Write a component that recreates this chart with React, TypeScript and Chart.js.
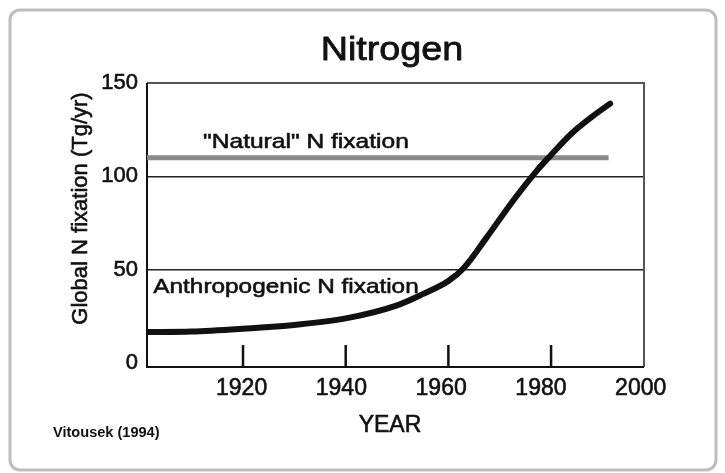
import React, { useEffect, useRef } from "react";
import { Chart, registerables } from "chart.js";

Chart.register(...registerables);

// ---- data ----
const anthroYears = [1901.3, 1910, 1920, 1930, 1940, 1950, 1955, 1960, 1963, 1967.5, 1972.6, 1977.2, 1980, 1984, 1988, 1991.5];
const anthroValues = [16.7, 17, 18.5, 20.5, 24, 31, 37, 44, 51, 67.5, 87, 103, 111.5, 123, 132, 139];
const naturalYears = [1901.3, 1991.2];
const naturalValues = [110, 110];
const yTickValues = [0, 50, 100, 150];
const yGridValues = [50, 100];
const xTickMarkYears = [1920, 1940, 1960, 1980];
const xLabelYears = [1920, 1940, 1960, 1980, 2000];

const TITLE = "Nitrogen";
const Y_TITLE = "Global N fixation (Tg/yr)";
const X_TITLE = "YEAR";
const NATURAL_LABEL = '"Natural" N fixation';
const ANTHRO_LABEL = "Anthropogenic N fixation";
const CREDIT = "Vitousek (1994)";

const FONT = "'Liberation Sans', Arial, Helvetica, sans-serif";

function txt(
  ctx: CanvasRenderingContext2D,
  s: string,
  x: number,
  y: number,
  font: string,
  align: CanvasTextAlign,
  sx = 1,
  rot = 0,
  stroke = 0.6
) {
  ctx.save();
  ctx.font = font;
  ctx.fillStyle = "#111";
  ctx.strokeStyle = "#111";
  ctx.lineJoin = "round";
  ctx.textAlign = align;
  ctx.textBaseline = "alphabetic";
  ctx.translate(x, y);
  if (rot) ctx.rotate(rot);
  ctx.scale(sx, 1);
  ctx.fillText(s, 0, 0);
  if (stroke > 0) {
    ctx.lineWidth = stroke;
    ctx.strokeText(s, 0, 0);
  }
  ctx.restore();
}

const decorPlugin = {
  id: "decor",
  beforeDraw(chart: any) {
    const ctx = chart.ctx as CanvasRenderingContext2D;
    ctx.save();
    ctx.fillStyle = "#fff";
    ctx.fillRect(0, 0, chart.width, chart.height);
    ctx.strokeStyle = "#bdbdbd";
    ctx.lineWidth = 3;
    ctx.beginPath();
    (ctx as any).roundRect(10, 10, 706, 460, 10);
    ctx.stroke();
    ctx.restore();
  },
  beforeDatasetsDraw(chart: any) {
    const ctx = chart.ctx as CanvasRenderingContext2D;
    const a = chart.chartArea;
    const xs = chart.scales.x;
    ctx.save();
    // inner tick marks
    ctx.strokeStyle = "#111";
    ctx.lineWidth = 2.5;
    for (const yr of xTickMarkYears) {
      const px = xs.getPixelForValue(yr);
      ctx.beginPath();
      ctx.moveTo(px, a.bottom);
      ctx.lineTo(px, a.bottom - 22);
      ctx.stroke();
    }
    // frame
    ctx.lineWidth = 2;
    ctx.strokeStyle = "#555";
    ctx.beginPath();
    ctx.moveTo(a.left, a.top);
    ctx.lineTo(a.right, a.top);
    ctx.lineTo(a.right, a.bottom);
    ctx.stroke();
    ctx.strokeStyle = "#111";
    ctx.beginPath();
    ctx.moveTo(a.left, a.top);
    ctx.lineTo(a.left, a.bottom);
    ctx.lineTo(a.right, a.bottom);
    ctx.stroke();
    ctx.restore();
  },
  afterDraw(chart: any) {
    const ctx = chart.ctx as CanvasRenderingContext2D;
    txt(ctx, TITLE, 392, 59.5, `34px ${FONT}`, "center", 1.11, 0, 0.8);
    txt(ctx, NATURAL_LABEL, 203, 147.5, `21px ${FONT}`, "left", 1.17);
    txt(ctx, ANTHRO_LABEL, 153.3, 292.7, `21px ${FONT}`, "left", 1.16);
    txt(ctx, X_TITLE, 390, 431.7, `23px ${FONT}`, "center", 1.0);
    txt(ctx, CREDIT, 53, 437, `bold 14px ${FONT}`, "left", 1.04, 0, 0);
    txt(ctx, Y_TITLE, 87, 208.5, `22px ${FONT}`, "center", 1.0, -Math.PI / 2);
  },
};

export default function App() {
  const ref = useRef<HTMLCanvasElement | null>(null);

  useEffect(() => {
    if (!ref.current) return;
    const chart = new Chart(ref.current, {
      type: "line",
      data: {
        datasets: [
          {
            label: "Anthropogenic",
            data: anthroYears.map((x, i) => ({ x, y: anthroValues[i] })),
            borderColor: "#111",
            borderWidth: 6,
            borderCapStyle: "round",
            pointRadius: 0,
            cubicInterpolationMode: "monotone",
            xAxisID: "x",
            yAxisID: "y",
          },
          {
            label: "Natural",
            data: naturalYears.map((x, i) => ({ x, y: naturalValues[i] })),
            borderColor: "#8a8a8a",
            borderWidth: 5,
            borderCapStyle: "butt",
            pointRadius: 0,
            xAxisID: "x",
            yAxisID: "y",
          },
        ],
      },
      options: {
        animation: false,
        responsive: false,
        devicePixelRatio: 1,
        layout: { padding: { top: 83, right: 81, left: 0, bottom: 0 } },
        plugins: {
          legend: { display: false },
          tooltip: { enabled: false },
          title: { display: false },
        },
        scales: {
          x: {
            type: "linear",
            position: "bottom",
            min: 1901.3,
            max: 1998.1,
            grid: { display: false, drawTicks: false },
            border: { display: false },
            ticks: { display: false },
            afterFit: (s: any) => {
              s.height = 0;
            },
          },
          xLabels: {
            type: "linear",
            position: "bottom",
            min: 1901.04,
            max: 2000.66,
            grid: { display: false, drawTicks: false },
            border: { display: false },
            afterBuildTicks: (s: any) => {
              s.ticks = xLabelYears.map((v) => ({ value: v }));
            },
            ticks: {
              color: "#111",
              padding: 8,
              maxRotation: 0,
              autoSkip: false,
              textStrokeColor: "#111",
              textStrokeWidth: 0.6,
              font: { family: FONT, size: 23 },
              callback: (v: any) => String(v),
            },
            afterFit: (s: any) => {
              s.height = 106;
            },
          },
          y: {
            type: "linear",
            min: -2,
            max: 150,
            afterBuildTicks: (s: any) => {
              s.ticks = yTickValues.map((v) => ({ value: v }));
            },
            grid: {
              drawTicks: false,
              lineWidth: 1.5,
              color: (c: any) =>
                yGridValues.includes(c.tick && c.tick.value) ? "#222" : "rgba(0,0,0,0)",
            },
            border: { display: false },
            ticks: {
              color: "#111",
              padding: 9,
              textStrokeColor: "#111",
              textStrokeWidth: 0.6,
              font: { family: FONT, size: 22 },
              callback: (v: any) => String(v),
            },
            afterFit: (s: any) => {
              s.width = 147;
            },
          },
        },
      },
      plugins: [decorPlugin],
    } as any);
    return () => chart.destroy();
  }, []);

  return (
    <div style={{ position: "absolute", left: 0, top: 0, width: 725, height: 473 }}>
      <canvas ref={ref} width={725} height={473} />
    </div>
  );
}
